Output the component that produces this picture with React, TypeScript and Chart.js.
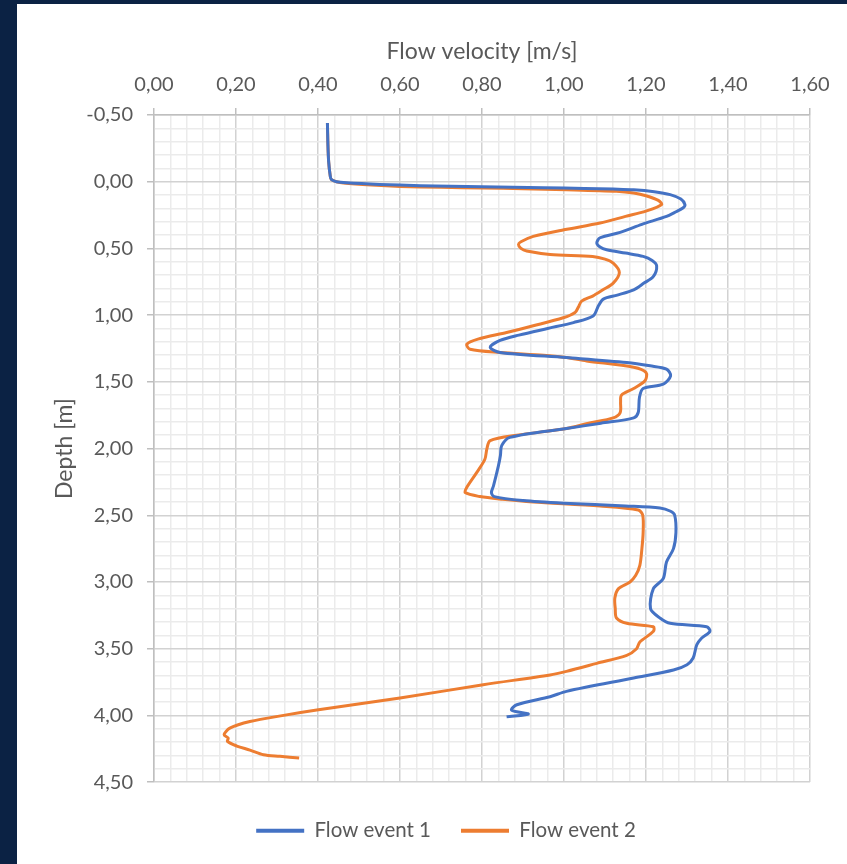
import React, { useEffect, useRef } from 'react';
import { Chart, registerables } from 'chart.js';

Chart.register(...registerables);

// Flow event 1 (blue): depth [m] and velocity [m/s]
const depthEvent1 = [
  -0.44, -0.3, -0.15, -0.04, -0.015, 0.0, 0.008, 0.02, 0.03, 0.038, 0.045, 0.05, 0.055, 0.06, 0.075, 0.097,
  0.13, 0.172, 0.197, 0.23, 0.26, 0.32, 0.38, 0.42, 0.46, 0.49, 0.51, 0.535, 0.56, 0.59, 0.63, 0.71,
  0.76, 0.81, 0.85, 0.88, 0.93, 1.007, 1.056, 1.1, 1.15, 1.19, 1.24, 1.28, 1.318, 1.355, 1.38, 1.405,
  1.455, 1.517, 1.55, 1.617, 1.73, 1.77, 1.81, 1.85, 1.916, 1.978, 2.05, 2.13, 2.28, 2.33, 2.36, 2.39,
  2.41, 2.43, 2.445, 2.47, 2.5, 2.63, 2.75, 2.85, 2.975, 3.05, 3.2, 3.27, 3.31, 3.336, 3.37, 3.42,
  3.47, 3.57, 3.62, 3.66, 3.72, 3.82, 3.86, 3.92, 3.96, 3.99, 4.01,
];
const velocityEvent1 = [
  0.423, 0.424, 0.426, 0.43, 0.433, 0.445, 0.47, 0.55, 0.65, 0.8, 0.95, 1.05, 1.12, 1.17, 1.22, 1.259,
  1.285, 1.295, 1.29, 1.27, 1.25, 1.19, 1.137, 1.088, 1.08, 1.088, 1.104, 1.15, 1.193, 1.215, 1.226, 1.218,
  1.195, 1.17, 1.13, 1.096, 1.084, 1.071, 1.023, 0.96, 0.89, 0.844, 0.82, 0.844, 1.006, 1.153, 1.21, 1.25,
  1.26, 1.242, 1.193, 1.184, 1.181, 1.17, 1.09, 1.006, 0.868, 0.848, 0.845, 0.84, 0.828, 0.823, 0.83, 0.9,
  1.0, 1.15, 1.234, 1.26, 1.27, 1.273, 1.267, 1.25, 1.242, 1.218, 1.211, 1.234, 1.259, 1.348, 1.356, 1.336,
  1.324, 1.315, 1.3, 1.267, 1.17, 1.006, 0.966, 0.885, 0.872, 0.913, 0.86,
];

// Flow event 2 (orange): depth [m] and velocity [m/s]
const depthEvent2 = [
  -0.44, -0.3, -0.15, -0.04, -0.015, 0.0, 0.01, 0.025, 0.035, 0.042, 0.047, 0.053, 0.06, 0.072, 0.085, 0.105,
  0.14, 0.172, 0.22, 0.26, 0.31, 0.36, 0.41, 0.45, 0.47, 0.5, 0.52, 0.545, 0.56, 0.58, 0.61, 0.68,
  0.76, 0.81, 0.857, 0.895, 0.94, 0.98, 1.02, 1.08, 1.13, 1.18, 1.218, 1.256, 1.28, 1.3, 1.318, 1.343,
  1.39, 1.43, 1.49, 1.55, 1.6, 1.65, 1.73, 1.77, 1.81, 1.85, 1.9, 1.94, 2.0, 2.08, 2.18, 2.29,
  2.33, 2.36, 2.38, 2.4, 2.43, 2.46, 2.5, 2.63, 2.75, 2.875, 2.95, 3.0, 3.05, 3.12, 3.2, 3.27,
  3.31, 3.336, 3.37, 3.45, 3.5, 3.55, 3.61, 3.67, 3.697, 3.77, 3.87, 3.96, 4.0, 4.046, 4.096, 4.145,
  4.17, 4.195, 4.23, 4.26, 4.295, 4.307, 4.32,
];
const velocityEvent2 = [
  0.423, 0.424, 0.426, 0.43, 0.433, 0.445, 0.462, 0.53, 0.6, 0.7, 0.803, 0.9, 1.006, 1.128, 1.17, 1.2,
  1.23, 1.238, 1.2, 1.15, 1.088, 1.0, 0.925, 0.895, 0.889, 0.895, 0.909, 0.966, 1.07, 1.1, 1.12, 1.135,
  1.12, 1.095, 1.07, 1.043, 1.035, 1.027, 0.998, 0.925, 0.86, 0.79, 0.763, 0.771, 0.844, 0.95, 1.006, 1.055,
  1.17, 1.2, 1.198, 1.17, 1.14, 1.138, 1.137, 1.12, 1.06, 1.006, 0.885, 0.82, 0.812, 0.807, 0.787, 0.763,
  0.759, 0.795, 0.85, 0.925, 1.088, 1.181, 1.192, 1.193, 1.19, 1.185, 1.175, 1.161, 1.133, 1.124, 1.125, 1.128,
  1.153, 1.218, 1.218, 1.185, 1.177, 1.153, 1.08, 1.006, 0.966, 0.803, 0.6, 0.397, 0.316, 0.234, 0.185, 0.171,
  0.181, 0.179, 0.202, 0.234, 0.267, 0.307, 0.354,
];

const seriesLabels = ['Flow event 1', 'Flow event 2'];
const xTitle = 'Flow velocity [m/s]';
const yTitle = 'Depth [m]';

const BLUE = '#4472C4';
const ORANGE = '#ED7D31';
const TEXT = '#595959';
const MAJOR = '#d2d2d2';
const MINOR = '#ebebeb';
const AXIS = '#bfbfbf';
const FONT = 'Lato, "Open Sans", sans-serif';

const isMajor = (v: number, step: number) => Math.abs(v / step - Math.round(v / step)) < 1e-6;
const fmt = (v: number) => v.toFixed(2).replace('.', ',');

const shiftLegend = {
  id: 'shiftLegend',
  afterLayout(chart: any) {
    const l = chart.legend;
    if (l) {
      l.left += 22;
      l.right += 22;
    }
  },
};

export default function App() {
  const ref = useRef<HTMLCanvasElement>(null);

  useEffect(() => {
    if (!ref.current) return;
    const tickFont = { family: FONT, size: 20 };
    const titleFont = { family: FONT, size: 23 };
    const chart = new Chart(ref.current, {
      type: 'scatter',
      data: {
        datasets: [
          {
            label: seriesLabels[0],
            data: depthEvent1.map((d, i) => ({ x: velocityEvent1[i], y: d })),
            showLine: true,
            borderColor: BLUE,
            backgroundColor: BLUE,
            borderWidth: 3,
            pointRadius: 0,
            pointStyle: 'line',
            tension: 0.3,
          },
          {
            label: seriesLabels[1],
            data: depthEvent2.map((d, i) => ({ x: velocityEvent2[i], y: d })),
            showLine: true,
            borderColor: ORANGE,
            backgroundColor: ORANGE,
            borderWidth: 3,
            pointRadius: 0,
            pointStyle: 'line',
            tension: 0.3,
          },
        ],
      },
      plugins: [shiftLegend],
      options: {
        animation: false,
        responsive: false,
        maintainAspectRatio: false,
        layout: { padding: { left: 0, top: 16, right: 37, bottom: 13 } },
        plugins: {
          tooltip: { enabled: false },
          legend: {
            position: 'bottom',
            title: { display: true, text: '', font: { size: 7 }, padding: 0 },
            labels: {
              usePointStyle: true,
              pointStyleWidth: 48,
              padding: 30,
              color: TEXT,
              font: { family: FONT, size: 20.5 },
              generateLabels: (c: any) =>
                (Chart.defaults.plugins.legend.labels.generateLabels as any)(c).map((it: any) => ({ ...it, lineWidth: 4 })),
            },
          },
        },
        scales: {
          x: {
            type: 'linear',
            position: 'top',
            min: 0,
            max: 1.6,
            afterFit: (s: any) => {
              s.height = 95;
            },
            ticks: {
              stepSize: 0.04,
              autoSkip: false,
              maxRotation: 0,
              padding: 11,
              color: TEXT,
              font: tickFont,
              callback: (v: any) => (isMajor(Number(v), 0.2) ? fmt(Number(v)) : ''),
            },
            grid: {
              color: (c: any) => (c.tick && isMajor(c.tick.value, 0.2) ? MAJOR : MINOR),
              tickColor: (c: any) => (c.tick && isMajor(c.tick.value, 0.2) ? AXIS : 'rgba(0,0,0,0)'),
              tickLength: 7,
              lineWidth: 1.5,
            },
            border: { color: AXIS, width: 1.5 },
            title: { display: true, text: xTitle, color: TEXT, font: titleFont, padding: { top: 18, bottom: 0 } },
          },
          y: {
            type: 'linear',
            reverse: true,
            min: -0.5,
            max: 4.5,
            afterFit: (s: any) => {
              s.width = 116;
            },
            ticks: {
              stepSize: 0.1,
              autoSkip: false,
              padding: 14,
              color: TEXT,
              font: tickFont,
              callback: (v: any) => (isMajor(Number(v), 0.5) ? fmt(Number(v)) : ''),
            },
            grid: {
              color: (c: any) => (c.tick && isMajor(c.tick.value, 0.5) ? MAJOR : MINOR),
              tickColor: (c: any) => (c.tick && isMajor(c.tick.value, 0.5) ? AXIS : 'rgba(0,0,0,0)'),
              tickLength: 7,
              lineWidth: 1.5,
            },
            border: { color: AXIS, width: 1.5 },
            title: { display: true, text: yTitle, color: TEXT, font: titleFont, padding: { top: 13, bottom: 0 } },
          },
        },
      },
    } as any);
    return () => chart.destroy();
  }, []);

  return (
    <div style={{ position: 'fixed', left: 0, top: 0, width: 847, height: 864, background: '#0b2244', overflow: 'hidden' }}>
      <div style={{ position: 'absolute', left: 17, top: 4, width: 830, height: 860, background: '#ffffff' }}>
        <canvas ref={ref} width={809} height={860} style={{ position: 'absolute', left: 21, top: 0, width: 809, height: 860 }} />
      </div>
    </div>
  );
}
